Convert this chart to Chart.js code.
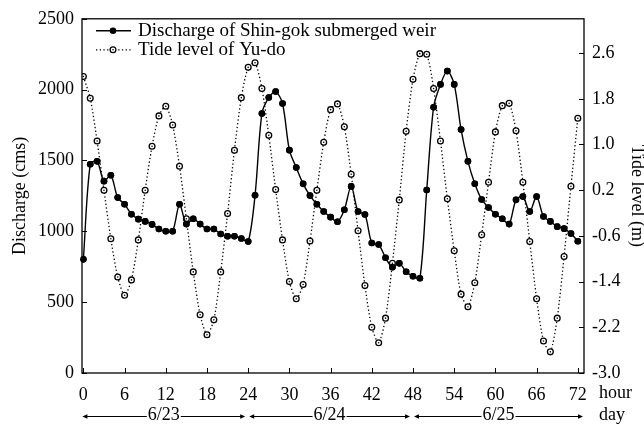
<!DOCTYPE html>
<html lang="en">
<head>
  <meta charset="UTF-8">
  <title>Discharge of Shin-gok submerged weir / Tide level of Yu-do</title>
  <script src="https://cdn.jsdelivr.net/npm/chart.js"></script>
  <style>
    body { margin: 0; background: #fff; }
    #wrap { width: 644px; height: 428px; }
  </style>
</head>
<body>
  <div id="wrap"><canvas id="chart" width="644" height="428"></canvas></div>
  <script>
    // hourly values, 6/23 00h .. 6/25 24h
    const hours = [0, 1, 2, 3, 4, 5, 6, 7, 8, 9, 10, 11, 12, 13, 14, 15, 16, 17, 18, 19, 20, 21, 22, 23, 24,
      25, 26, 27, 28, 29, 30, 31, 32, 33, 34, 35, 36, 37, 38, 39, 40, 41, 42, 43, 44, 45, 46, 47, 48,
      49, 50, 51, 52, 53, 54, 55, 56, 57, 58, 59, 60, 61, 62, 63, 64, 65, 66, 67, 68, 69, 70, 71, 72];

    const discharge = [802, 1473, 1494, 1354, 1396, 1238, 1191, 1121, 1086, 1070, 1049, 1016, 1000, 1000,
      1191, 1051, 1089, 1051, 1016, 1016, 981, 965, 965, 949, 928,
      1255, 1832, 1944, 1986, 1902, 1573, 1450, 1335, 1252, 1191, 1140, 1100, 1068, 1152, 1317, 1140,
      1119, 918, 907, 813, 746, 774, 715, 683,
      669, 1292, 1876, 2037, 2131, 2037, 1718, 1494, 1336, 1225, 1168, 1121, 1089, 1051, 1222, 1245,
      1140, 1245, 1105, 1070, 1033, 1019, 984, 930];

    const tideLevel = [2.19, 1.81, 1.06, 0.20, -0.65, -1.32, -1.64, -1.37, -0.67, 0.20, 0.97, 1.50, 1.67,
      1.34, 0.62, -0.30, -1.23, -1.98, -2.33, -2.07, -1.23, -0.21, 0.90, 1.82, 2.35,
      2.43, 1.98, 1.16, 0.21, -0.67, -1.40, -1.70, -1.45, -0.69, 0.20, 1.04, 1.61, 1.71, 1.31, 0.48,
      -0.51, -1.47, -2.20, -2.47, -2.04, -1.08, 0.03, 1.23, 2.14,
      2.59, 2.58, 1.98, 1.06, 0.05, -0.86, -1.62, -1.84, -1.42, -0.58, 0.34, 1.22, 1.68, 1.72, 1.24,
      0.34, -0.70, -1.70, -2.44, -2.63, -2.04, -0.96, 0.27, 1.46];

    const hourTicks = [0, 6, 12, 18, 24, 30, 36, 42, 48, 54, 60, 66, 72];
    const dischargeTicks = [0, 500, 1000, 1500, 2000, 2500];
    const tideTicks = [-3.0, -2.2, -1.4, -0.6, 0.2, 1.0, 1.8, 2.6];
    const dayLabels = ['6/23', '6/24', '6/25'];
    const dayStarts = [0, 24, 48];

    const FONT = "'Liberation Serif', 'Times New Roman', serif";

    function arrowHead(ctx, x, y, dir) {
      ctx.beginPath();
      ctx.moveTo(x, y);
      ctx.lineTo(x - dir * 5, y - 2.2);
      ctx.lineTo(x - dir * 5, y + 2.2);
      ctx.closePath();
      ctx.fill();
    }

    function ring(ctx, x, y) {
      ctx.beginPath();
      ctx.arc(x, y, 2.9, 0, Math.PI * 2);
      ctx.fillStyle = '#fff';
      ctx.fill();
      ctx.lineWidth = 1.3;
      ctx.strokeStyle = '#000';
      ctx.stroke();
      ctx.beginPath();
      ctx.arc(x, y, 0.8, 0, Math.PI * 2);
      ctx.fillStyle = '#000';
      ctx.fill();
    }

    const framePlugin = {
      id: 'frame',
      afterDatasetsDraw(chart) {
        const { ctx, chartArea: a, scales } = chart;
        ctx.save();
        // centre dot of the tide markers
        ctx.fillStyle = '#000';
        chart.getDatasetMeta(1).data.forEach(p => {
          ctx.beginPath();
          ctx.arc(p.x, p.y, 0.8, 0, Math.PI * 2);
          ctx.fill();
        });
        // redraw discharge points on top of tide dots
        chart.getDatasetMeta(0).data.forEach(p => {
          ctx.beginPath();
          ctx.arc(p.x, p.y, 3.3, 0, Math.PI * 2);
          ctx.fill();
        });
        ctx.strokeStyle = '#000';
        ctx.lineWidth = 1.3;
        ctx.strokeRect(a.left, a.top, a.right - a.left, a.bottom - a.top);
        // inward tick marks
        ctx.lineWidth = 1;
        ctx.beginPath();
        scales.x.ticks.forEach(t => {
          const px = Math.round(scales.x.getPixelForValue(t.value)) + 0.5;
          ctx.moveTo(px, a.bottom);
          ctx.lineTo(px, a.bottom - 5);
        });
        scales.yQ.ticks.forEach(t => {
          const py = Math.round(scales.yQ.getPixelForValue(t.value)) + 0.5;
          ctx.moveTo(a.left, py);
          ctx.lineTo(a.left + 5, py);
        });
        scales.yT.ticks.forEach(t => {
          const py = Math.round(scales.yT.getPixelForValue(t.value)) + 0.5;
          ctx.moveTo(a.right, py);
          ctx.lineTo(a.right - 5, py);
        });
        ctx.stroke();
        ctx.restore();
      },
      afterDraw(chart) {
        const { ctx, chartArea: a, scales } = chart;
        const ds = chart.data.datasets;
        ctx.save();
        ctx.fillStyle = '#000';
        ctx.strokeStyle = '#000';

        // legend inside the plot
        const rows = [a.top + 12, a.top + 31];
        ds.forEach((d, i) => {
          const y = rows[i];
          ctx.save();
          ctx.lineWidth = d.borderWidth;
          ctx.setLineDash(d.borderDash || []);
          ctx.beginPath();
          ctx.moveTo(a.left + 14, y);
          ctx.lineTo(a.left + 49, y);
          ctx.stroke();
          ctx.restore();
          const mx = a.left + 31;
          if (i === 1) {
            ctx.save();
            ring(ctx, mx, y);
            ctx.restore();
          } else {
            ctx.beginPath();
            ctx.arc(mx, y, d.pointRadius, 0, Math.PI * 2);
            ctx.fill();
          }
          ctx.font = '19px ' + FONT;
          ctx.textBaseline = 'middle';
          ctx.textAlign = 'left';
          ctx.fillText(d.label, a.left + 56, y);
        });

        // unit labels at the end of the hour / day rows
        ctx.font = '18px ' + FONT;
        ctx.textBaseline = 'alphabetic';
        ctx.textAlign = 'left';
        ctx.fillText('hour', 599, 398);
        ctx.fillText('day', 599, 420);

        // day arrows
        const ay = 416.5;
        ctx.lineWidth = 1;
        dayStarts.forEach((h, i) => {
          const x0 = scales.x.getPixelForValue(h) + (i === 0 ? -1 : 1);
          const x1 = i + 1 < dayStarts.length ? scales.x.getPixelForValue(dayStarts[i + 1]) - 3 : a.right - 1;
          const cx = (x0 + x1) / 2;
          const w = ctx.measureText(dayLabels[i]).width;
          ctx.beginPath();
          ctx.moveTo(x0 + 2, ay);
          ctx.lineTo(cx - w / 2 - 1, ay);
          ctx.moveTo(cx + w / 2 + 1, ay);
          ctx.lineTo(x1 - 2, ay);
          ctx.stroke();
          arrowHead(ctx, x0, ay, -1);
          arrowHead(ctx, x1, ay, 1);
          ctx.textAlign = 'center';
          ctx.fillText(dayLabels[i], cx, 420);
        });
        ctx.restore();
      }
    };

    const tickFont = { family: FONT, size: 18 };

    new Chart(document.getElementById('chart').getContext('2d'), {
      type: 'line',
      data: {
        datasets: [{
          label: 'Discharge of Shin-gok submerged weir',
          data: hours.map((h, i) => ({ x: h, y: discharge[i] })),
          yAxisID: 'yQ',
          borderColor: '#000',
          backgroundColor: '#000',
          borderWidth: 1.4,
          pointRadius: 3.3,
          pointBackgroundColor: '#000',
          pointBorderWidth: 0,
          tension: 0.3,
          fill: false
        }, {
          label: 'Tide level of Yu-do',
          data: hours.map((h, i) => ({ x: h, y: tideLevel[i] })),
          yAxisID: 'yT',
          borderColor: '#000',
          borderWidth: 1.3,
          borderDash: [1.3, 2.4],
          pointStyle: 'circle',
          pointRadius: 2.9,
          pointBackgroundColor: '#fff',
          pointBorderColor: '#000',
          pointBorderWidth: 1.3,
          tension: 0.25,
          fill: false
        }]
      },
      options: {
        responsive: false,
        animation: false,
        layout: { padding: { top: 15, left: 0, right: 0, bottom: 0 } },
        plugins: {
          legend: { display: false },
          tooltip: { enabled: false }
        },
        scales: {
          x: {
            type: 'linear',
            min: -0.2,
            max: 72.9,
            afterBuildTicks: s => { s.ticks = hourTicks.map(v => ({ value: v })); },
            afterFit: s => { s.height = 55; },
            grid: { display: false, drawTicks: false },
            border: { display: false },
            ticks: { font: tickFont, color: '#000', padding: 11, autoSkip: false, maxRotation: 0,
              callback: v => String(v) }
          },
          yQ: {
            position: 'left',
            min: 0,
            max: 2500,
            afterBuildTicks: s => { s.ticks = dischargeTicks.map(v => ({ value: v })); },
            afterFit: s => { s.width = 82; },
            grid: { display: false, drawTicks: false },
            border: { display: false },
            ticks: { font: tickFont, color: '#000', padding: 8, callback: v => String(v) },
            title: {
              display: true,
              text: 'Discharge (cms)',
              font: tickFont,
              color: '#000',
              padding: { top: 9, bottom: 0 }
            }
          },
          yT: {
            position: 'right',
            min: -3.0,
            max: 3.2,
            afterBuildTicks: s => { s.ticks = tideTicks.map(v => ({ value: v })); },
            afterFit: s => { s.width = 60; },
            grid: { display: false, drawTicks: false },
            border: { display: false },
            ticks: { font: tickFont, color: '#000', padding: 8, callback: v => v.toFixed(1) },
            title: {
              display: true,
              text: 'Tide level (m)',
              font: tickFont,
              color: '#000',
              padding: { top: -4, bottom: 0 }
            }
          }
        }
      },
      plugins: [framePlugin]
    });
  </script>
</body>
</html>
